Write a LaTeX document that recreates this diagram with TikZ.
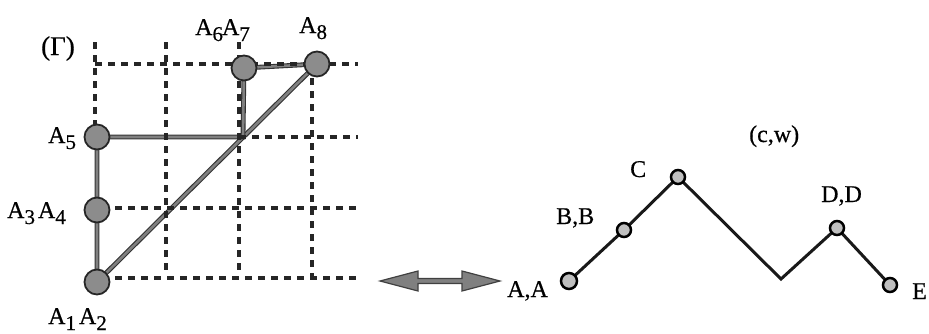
\documentclass[tikz,border=0pt]{standalone}
\usepackage{fontspec}
\setmainfont{Liberation Serif}[FakeBold=0.5]
\newcommand\subidx[1]{\raisebox{-6pt}{\fontsize{21}{21}\selectfont #1}}
\pgfdeclarelayer{bg}
\pgfsetlayers{bg,main}
\begin{document}
\begin{tikzpicture}[x=1pt,y=-1pt,
  lbl/.style={inner sep=0pt, font=\fontsize{24}{26}\selectfont, anchor=base west},
  gridline/.style={line width=3.3pt, draw=black!85, dash pattern=on 7pt off 6pt},
  bar/.style={draw=black!80, line width=1.1pt, double=black!50, double distance=2.6pt},
  bigdot/.style={circle, minimum size=25pt, inner sep=0pt, fill=black!45, draw=black!85, line width=1.8pt},
  smalldot/.style={circle, minimum size=14pt, inner sep=0pt, fill=black!25, draw=black, line width=2.5pt},
  zig/.style={line width=3pt, draw=black!90, line join=miter},
  dbl/.style={fill=black!50, draw=black!75, line width=1.2pt, line join=miter}]
\useasboundingbox (0,0) rectangle (929,333);

% dashed grid
\draw[gridline] (95,42) -- (95,128);
\draw[gridline] (166,42) -- (166,272);
\draw[gridline] (239,42) -- (239,273);
\draw[gridline] (312,78) -- (312,277);
\draw[gridline] (95,64) -- (358,64);
\draw[gridline] (239,137) -- (358,137);
\draw[gridline] (115,208) -- (358,208);
\draw[gridline] (115,278) -- (358,278);

% left graph nodes
\node[bigdot] (a1) at (97,282) {};
\node[bigdot] (a3) at (97,210) {};
\node[bigdot] (a5) at (97,137) {};
\node[bigdot] (a6) at (244,68) {};
\node[bigdot] (a8) at (317,64) {};
\coordinate (m) at (243,137);

\begin{pgfonlayer}{bg}
\draw[bar] (a1.center) -- (a8.center);
\draw[bar] (a1.center) -- (a3.center) -- (a5.center) -- (m) -- (a6.center) -- (a8.center);
\end{pgfonlayer}

% left labels
\node[lbl, font=\fontsize{27}{28}\selectfont] (tg) at (41,55) {(Γ)};
\node[lbl] (t67) at (195,35) {A\subidx{6}\kern-1pt A\subidx{7}};
\node[lbl] (t8) at (299,33) {A\subidx{8}};
\node[lbl] (t5) at (48,143) {A\subidx{5}};
\node[lbl] (t34) at (7,218) {A\subidx{3}\kern3pt A\subidx{4}};
\node[lbl] (t12) at (48,324) {A\subidx{1}\kern3pt A\subidx{2}};

% double arrow
\coordinate (arrL) at (380,281);
\draw[dbl] (arrL) -- ++(38,-10) -- ++(0,7.5) -- ++(44,0) -- ++(0,-7.5) -- ++(38,10)
  -- ++(-38,10) -- ++(0,-7.5) -- ++(-44,0) -- ++(0,7.5) -- cycle;

% right path
\node[smalldot, minimum size=16pt] (aa) at (569,281) {};
\node[smalldot] (bb) at (624,230) {};
\node[smalldot] (c) at (678,177) {};
\coordinate (v) at (781,279);
\node[smalldot] (dd) at (837,228) {};
\node[smalldot] (e) at (890,285) {};
\begin{pgfonlayer}{bg}
\draw[zig] (aa.center) -- (bb.center) -- (c.center) -- (v) -- (dd.center) -- (e.center);
\end{pgfonlayer}

% right labels
\node[lbl] (taa) at (507,297) {A,A};
\node[lbl] (tbb) at (556,224) {B,B};
\node[lbl] (tc) at (630,177) {C};
\node[lbl] (tcw) at (749,142) {(c,w)};
\node[lbl] (tdd) at (821,202) {D,D};
\node[lbl] (te) at (912,299) {E};
\end{tikzpicture}
\end{document}
